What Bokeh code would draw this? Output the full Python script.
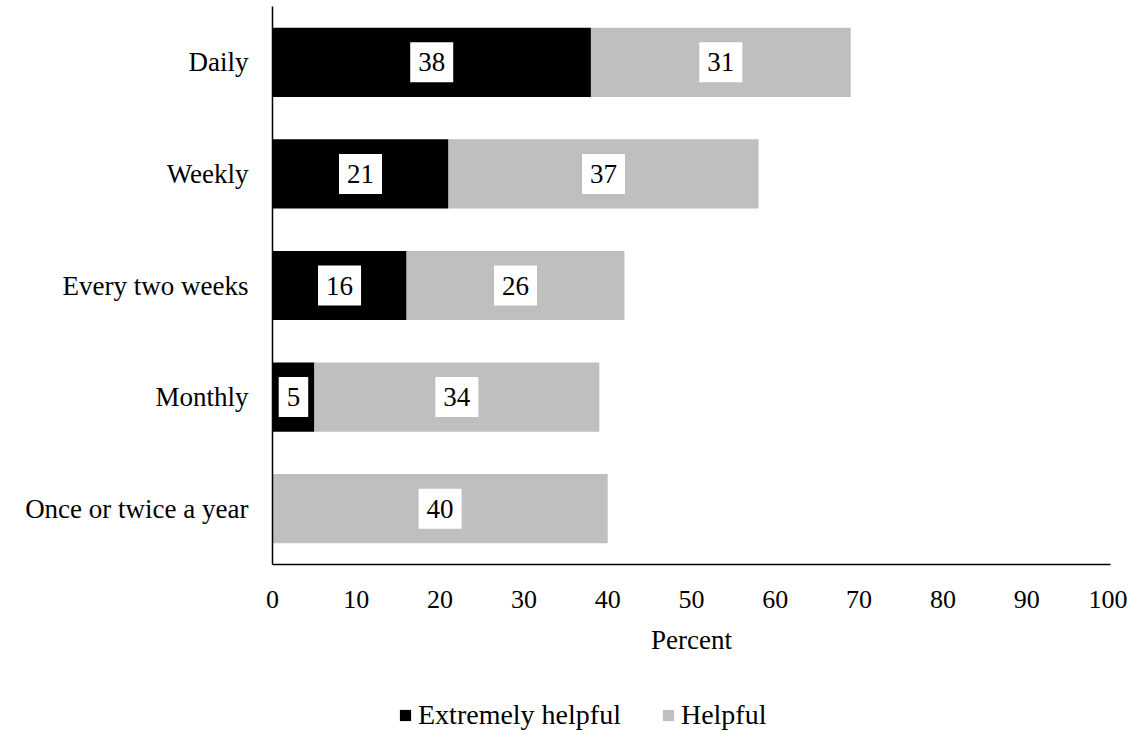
from bokeh.plotting import figure
from bokeh.models import ColumnDataSource, FactorRange, Range1d, FixedTicker, Legend
from bokeh.layouts import column
from bokeh.embed import file_html
from bokeh.resources import INLINE
from bokeh.core.properties import value

categories = ["Daily", "Weekly", "Every two weeks", "Monthly", "Once or twice a year"]
extremely_helpful = [38, 21, 16, 5, 0]
helpful = [31, 37, 26, 34, 40]
x_ticks = [0, 10, 20, 30, 40, 50, 60, 70, 80, 90, 100]
series_names = ["Extremely helpful", "Helpful"]
colors = ["#000000", "#bfbfbf"]

FONT = "Liberation Serif"

source = ColumnDataSource(dict(cat=categories, ext=extremely_helpful, hel=helpful))

p = figure(
    width=1127, height=668,
    y_range=FactorRange(*reversed(categories)),
    x_range=Range1d(0, 100),
    output_backend="svg", toolbar_location=None,
    min_border_left=272, min_border_right=17, min_border_top=6, min_border_bottom=104,
)

rs = p.hbar_stack(["ext", "hel"], y="cat", height=0.62, color=colors, source=source, line_color=None)

# data labels
lab_x, lab_y, lab_t = [], [], []
for c, e, h in zip(categories, extremely_helpful, helpful):
    if e > 0:
        lab_x.append(e / 2); lab_y.append(c); lab_t.append(str(e))
    if h > 0:
        lab_x.append(e + h / 2); lab_y.append(c); lab_t.append(str(h))
lsrc = ColumnDataSource(dict(x=lab_x, y=lab_y, t=lab_t))
p.text(x="x", y="y", text="t", source=lsrc, text_align="center", text_baseline="middle",
       text_font=value(FONT), text_font_size="27px", text_color="black",
       background_fill_color="white", padding=dict(left=8, right=8, top=11, bottom=11))

p.xgrid.visible = False
p.ygrid.visible = False
p.outline_line_color = None

p.xaxis.ticker = FixedTicker(ticks=x_ticks)
p.xaxis.axis_label = "Percent"
for ax in (p.xaxis[0], p.yaxis[0]):
    ax.major_tick_line_color = None
    ax.minor_tick_line_color = None
    ax.major_tick_out = 0
    ax.major_tick_in = 0
    ax.axis_line_color = "black"
    ax.axis_line_width = 1.5
    ax.major_label_text_font = FONT
    ax.major_label_text_color = "black"
    ax.axis_label_text_font = FONT
    ax.axis_label_text_font_size = "27px"
    ax.axis_label_text_font_style = "normal"
    ax.axis_label_text_color = "black"
p.xaxis.major_label_text_font_size = "26px"
p.yaxis.major_label_text_font_size = "27px"
p.xaxis.major_label_standoff = 26
p.xaxis.axis_label_standoff = 14
p.yaxis.major_label_standoff = 24

# legend strip below the chart (hidden renderers supply the legend swatches)
lf = figure(width=1127, height=63, x_range=Range1d(0, 100), y_range=FactorRange(*categories),
            output_backend="svg", toolbar_location=None,
            min_border_left=0, min_border_right=0, min_border_top=0, min_border_bottom=0)
lf.axis.visible = False
lf.grid.visible = False
lf.outline_line_color = None
leg_r = lf.hbar_stack(["ext", "hel"], y="cat", height=0.62, color=colors, source=source,
                      line_color=None, visible=False)
legend = Legend(items=[(series_names[0], [leg_r[0]]), (series_names[1], [leg_r[1]])],
                orientation="horizontal", location=(126, 0),
                border_line_color=None, background_fill_alpha=0,
                inactive_fill_alpha=0,
                padding=0, margin=0, spacing=40,
                glyph_width=14, glyph_height=14, label_standoff=6,
                label_text_font=FONT, label_text_font_size="28px", label_text_color="black")
lf.add_layout(legend, "center")

layout = column(p, lf, spacing=0)
open("out.html", "w").write(file_html(layout, INLINE))
